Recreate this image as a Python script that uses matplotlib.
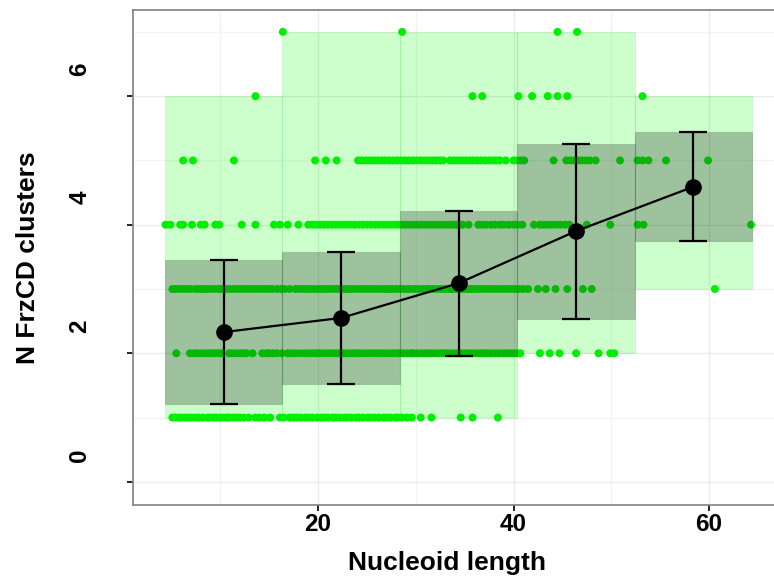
import numpy as np
import matplotlib
matplotlib.use("Agg")
import matplotlib.pyplot as plt
import matplotlib.transforms as mtransforms

plt.rcParams['font.family'] = ['Liberation Sans', 'DejaVu Sans']

# Nucleoid length of every cell, grouped by its FrzCD cluster count
len_1 = [5.1, 5.4, 5.8, 6.1, 6.5, 6.8, 7.1, 7.5, 7.8, 8.2, 8.7, 8.9, 9.3, 9.6, 10.0,
         10.4, 10.7, 10.9, 11.3, 11.6, 12.0, 12.4, 12.9, 13.6, 14.0, 14.5, 15.1, 16.1,
         16.5, 17.1, 17.5, 17.8, 18.2, 18.7, 19.0, 19.4, 19.9, 20.3, 20.6, 21.0, 21.5,
         21.8, 22.2, 22.7, 23.0, 23.4, 23.9, 24.2, 24.6, 25.1, 25.4, 25.8, 26.2, 26.7,
         27.0, 27.4, 27.9, 28.2, 28.6, 29.1, 29.6, 30.5, 31.6, 34.6, 35.8, 38.4]
len_2 = [5.5, 6.9, 7.3, 7.6, 8.0, 8.4, 8.8, 9.1, 9.5, 9.8, 10.1, 10.9, 11.2, 11.6,
         12.0, 12.3, 12.7, 13.3, 14.3, 14.7, 15.0, 15.4, 15.8, 16.3, 16.9, 17.3, 17.7,
         18.1, 18.6, 19.0, 19.4, 19.8, 20.1, 20.5, 20.9, 21.2, 21.6, 22.0, 22.4, 22.7,
         23.1, 23.5, 23.9, 24.2, 24.6, 25.0, 25.3, 25.7, 26.1, 26.5, 26.8, 27.2, 27.6,
         28.0, 28.3, 28.7, 29.1, 29.5, 29.8, 30.2, 30.6, 31.0, 31.3, 31.7, 32.1, 32.5,
         32.8, 33.2, 33.6, 34.0, 34.3, 34.7, 35.1, 35.5, 35.8, 36.2, 36.6, 37.0, 37.3,
         37.7, 38.1, 38.5, 38.9, 39.2, 39.6, 40.0, 40.4, 40.7, 42.7, 43.7, 44.7, 46.4,
         48.7, 49.9, 50.3]
len_3 = [5.1, 5.4, 5.8, 6.2, 6.6, 7.0, 7.5, 7.9, 8.3, 8.6, 9.0, 9.4, 9.8, 10.1, 10.5,
         10.9, 11.3, 11.7, 12.1, 12.5, 12.9, 13.3, 13.7, 14.1, 14.5, 14.9, 15.3, 15.8,
         16.2, 16.6, 17.1, 17.7, 18.1, 18.5, 18.8, 19.2, 19.6, 20.0, 20.4, 20.8, 21.1,
         21.5, 21.9, 22.3, 22.7, 23.0, 23.4, 23.8, 24.2, 24.6, 25.0, 25.3, 25.7, 26.1,
         26.5, 26.9, 27.2, 27.6, 28.0, 28.4, 28.8, 29.2, 29.5, 29.9, 30.3, 30.7, 31.1,
         31.4, 31.8, 32.2, 32.6, 33.0, 33.4, 33.7, 34.1, 34.5, 34.9, 35.3, 35.6, 36.0,
         36.4, 36.6, 37.0, 37.4, 37.8, 38.2, 38.6, 39.0, 39.4, 39.8, 40.2, 40.6, 41.0,
         41.5, 42.5, 43.3, 44.3, 45.5, 47.1, 48.0, 60.6]
len_4 = [4.4, 4.9, 5.9, 6.2, 7.1, 8.0, 8.4, 9.5, 9.9, 12.2, 13.6, 15.5, 16.1, 16.9,
         18.0, 19.0, 19.4, 19.8, 20.2, 20.6, 21.0, 21.4, 21.8, 22.2, 22.6, 23.0, 23.4,
         23.8, 24.2, 24.6, 25.0, 25.4, 25.8, 26.2, 26.6, 27.0, 27.4, 27.8, 28.2, 28.6,
         29.0, 29.4, 29.8, 30.2, 30.6, 31.0, 31.4, 31.8, 32.2, 32.6, 33.0, 33.4, 33.8,
         34.1, 34.4, 34.8, 35.4, 36.4, 36.8, 37.2, 37.7, 38.1, 38.6, 39.0, 39.5, 40.0,
         40.4, 40.9, 42.1, 42.7, 43.1, 43.5, 43.9, 44.4, 44.8, 45.3, 45.7, 47.5, 49.9,
         52.7, 53.3, 64.3]
len_5 = [6.2, 7.2, 11.4, 19.7, 20.8, 21.9, 24.1, 24.5, 24.9, 25.3, 25.7, 26.1, 26.5,
         26.9, 27.3, 27.7, 28.1, 28.5, 28.9, 29.3, 29.7, 30.1, 30.5, 30.9, 31.3, 31.7,
         32.1, 32.5, 32.8, 33.5, 33.9, 34.3, 34.7, 35.1, 35.5, 35.9, 36.3, 36.7, 37.1,
         37.5, 37.9, 38.2, 38.6, 39.2, 40.0, 40.4, 40.8, 41.1, 44.1, 45.4, 45.8, 46.2,
         46.6, 47.0, 47.4, 47.8, 48.4, 50.9, 52.7, 53.2, 53.8, 55.6, 59.9]
len_6 = [13.6, 35.8, 36.8, 40.5, 41.9, 43.5, 44.5, 45.5, 53.2]
len_7 = [16.4, 28.6, 44.5, 46.5]

counts = [1, 2, 3, 4, 5, 6, 7]
lengths = [len_1, len_2, len_3, len_4, len_5, len_6, len_7]

# length bins and per-bin mean +/- sd of the cluster count
bin_edges = [4.35, 16.36, 28.37, 40.38, 52.39, 64.4]
bin_mean = [2.33, 2.55, 3.09, 3.90, 4.59]
bin_sd = [1.12, 1.03, 1.13, 1.36, 0.85]

edges = np.array(bin_edges)
centers = (edges[:-1] + edges[1:]) / 2
widths = np.diff(edges)
mean = np.array(bin_mean)
sd = np.array(bin_sd)

# range of counts seen in each bin
all_x = np.concatenate([np.array(l) for l in lengths])
all_y = np.concatenate([np.full(len(l), c) for l, c in zip(lengths, counts)])
idx = np.clip(np.digitize(all_x, edges) - 1, 0, len(centers) - 1)
ymin = np.array([all_y[idx == i].min() for i in range(len(centers))])
ymax = np.array([all_y[idx == i].max() for i in range(len(centers))])

fig = plt.figure(figsize=(7.74, 5.83), dpi=100)
ax = fig.add_axes([133 / 774, 78 / 583, 641 / 774, 495 / 583])

ax.bar(edges[:-1], ymax - ymin, width=widths, bottom=ymin, align='edge',
       facecolor=(0, 1, 0, 0.2), edgecolor=(0, 0.7, 0, 0.1), linewidth=0.8, zorder=1)

for c, l in zip(counts, lengths):
    ax.scatter(l, np.full(len(l), c), s=33, color='#00ee00', edgecolors='none', zorder=2)

ax.bar(edges[:-1], 2 * sd, width=widths, bottom=mean - sd, align='edge',
       facecolor=(0.13, 0.13, 0.13, 0.27), edgecolor=(0.1, 0.3, 0.1, 0.18),
       linewidth=0.8, zorder=3)

ax.errorbar(centers, mean, yerr=sd, fmt='o-', color='black', ms=11, lw=1.6,
            elinewidth=1.6, capsize=10, capthick=1.6, zorder=4)

ax.set_xlim(1.07, 66.65)
ax.set_ylim(-0.36, 7.34)
ax.set_xticks([20, 40, 60])
ax.set_xticks([10, 30, 50], minor=True)
ax.set_yticks([0, 2, 4, 6])
ax.set_yticks([1, 3, 5, 7], minor=True)

ax.set_axisbelow(True)
ax.grid(True, which='major', color='#ebebeb', lw=1.0)
ax.grid(True, which='minor', color='#f3f3f3', lw=1.0)

for side in ['left', 'top', 'bottom']:
    ax.spines[side].set_color('#808080')
    ax.spines[side].set_linewidth(1.2)
ax.spines['right'].set_visible(False)

ax.tick_params(which='minor', length=0)
ax.tick_params(axis='x', which='major', length=4, width=1.2, color='black', pad=2,
               labelsize=17.5)
ax.tick_params(axis='y', which='major', length=4, width=1.2, color='black', pad=26,
               labelsize=17.5)
for lab in ax.get_xticklabels():
    lab.set_fontweight('bold')

# y tick labels sit upright and a little above their ticks
offset = mtransforms.ScaledTranslation(0, 0.27, fig.dpi_scale_trans)
for lab in ax.get_yticklabels():
    lab.set_fontweight('bold')
    lab.set_rotation(90)
    lab.set_va('center')
    lab.set_transform(lab.get_transform() + offset)

ax.set_xlabel('Nucleoid length', fontsize=19, fontweight='bold', va='center')
ax.xaxis.set_label_coords(0.49, -0.117)
ax.set_ylabel('N FrzCD clusters', fontsize=19, fontweight='bold', va='center')
ax.yaxis.set_label_coords(-0.164, 0.5)

fig.savefig('out.png', dpi=100)
